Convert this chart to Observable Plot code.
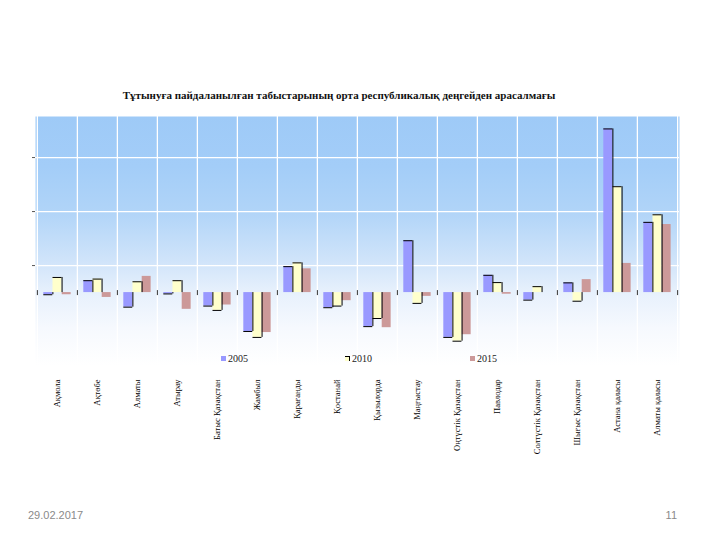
<!DOCTYPE html>
<html><head><meta charset="utf-8">
<script src="https://cdn.jsdelivr.net/npm/d3@7"></script>
<script src="https://cdn.jsdelivr.net/npm/@observablehq/plot@0.6"></script>
<style>
body{margin:0;background:#fff;}
#wrap{position:relative;width:720px;height:540px;overflow:hidden;}
#chart{position:absolute;left:0;top:0;}
.title{position:absolute;top:89px;left:0;width:678px;text-align:center;font:bold 11px "Liberation Serif",serif;color:#111;white-space:nowrap;}
.leg{position:absolute;top:353px;font:10px "Liberation Serif",serif;color:#222;white-space:nowrap;}
.leg i{display:inline-block;width:5px;height:5px;margin-right:2px;vertical-align:1px;}
.foot{position:absolute;top:509px;font:11px "Liberation Sans",sans-serif;color:#8a8a8a;}
</style>
</head><body>
<div id="wrap">
<div id="chart"></div>
<div class="title">Тұтынуға пайдаланылған табыстарының орта республикалық деңгейден арасалмағы</div>
<div class="leg" style="left:221px"><i style="background:#9999ff"></i>2005</div>
<div class="leg" style="left:345px"><i style="background:#ffffcc;border-top:1px solid #000;border-right:1px solid #000;width:4px;height:4px"></i>2010</div>
<div class="leg" style="left:470px"><i style="background:#cc9999"></i>2015</div>
<div class="foot" style="left:28px">29.02.2017</div>
<div class="foot" style="right:43px">11</div>
</div>
<script>
const regions = ["Ақмола","Ақтөбе","Алматы","Атырау","Батыс Қазақстан","Жамбыл","Қарағанды","Қостанай","Қызылорда","Маңғыстау","Оңтүстік Қазақстан","Павлодар","Солтүстік Қазақстан","Шығыс Қазақстан","Астана қаласы","Алматы қаласы"];
const v2005 = [-0.4, 2.2, -2.7, -0.25, -2.5, -7.2, 4.8, -2.8, -6.3, 9.6, -8.3, 3.2, -1.4, 1.8, 30.3, 13.0];
const v2010 = [2.8, 2.5, 2.0, 2.2, -3.3, -8.3, 5.5, -2.5, -4.8, -2.0, -9.0, 1.85, 1.1, -1.6, 19.6, 14.4];
const v2015 = [-0.4, -0.9, 3.0, -3.1, -2.3, -7.4, 4.4, -1.5, -6.5, -0.7, -7.8, -0.3, 0, 2.4, 5.4, 12.6];
const gridValues = [5, 15, 25];

const W = 720, H = 540, ML = 35, MR = 41, MT = 116, MB = 175;
const bw = (W - ML - MR) / regions.length;
const gOff = 6.3, step = 9.2;
const data = regions.map((r, i) => ({region: r, a: v2005[i], b: v2010[i], c: v2015[i]}));
const inset = k => ({insetLeft: gOff + step * k, insetRight: bw - gOff - step * (k + 1)});
const rEdge = k => gOff + step * (k + 1) - bw / 2;
const outline = {stroke: "#000", strokeWidth: 1};

const chart = Plot.plot({
  width: W, height: H,
  marginLeft: ML, marginRight: MR, marginTop: MT, marginBottom: MB,
  style: {fontFamily: "Liberation Serif, serif", fontSize: "8.5px", background: "transparent", color: "#000"},
  x: {domain: regions, padding: 0},
  y: {domain: [-13.5, 32.6]},
  marks: [
    Plot.frame({fill: "url(#bg)", stroke: "none"}),
    Plot.ruleY(gridValues, {stroke: "#fff", strokeWidth: 1.3}),
    Plot.ruleX(regions, {x: d => d, dx: -bw / 2, stroke: "#fff", strokeWidth: 1.3}),
    Plot.ruleX([regions[regions.length - 1]], {x: d => d, dx: bw / 2, stroke: "#fff", strokeWidth: 1.3}),
    Plot.barY(data, {x: "region", y: "a", fill: "#9999ff", ...inset(0)}),
    Plot.barY(data, {x: "region", y: "b", fill: "#ffffcc", ...inset(1)}),
    Plot.barY(data, {x: "region", y: "c", fill: "#cc9999", ...inset(2)}),
    Plot.tickY(data, {x: "region", y: "a", ...outline, ...inset(0)}),
    Plot.tickY(data, {x: "region", y: "b", ...outline, ...inset(1)}),
    Plot.ruleX(data, {x: "region", y1: 0, y2: "a", dx: rEdge(0), ...outline}),
    Plot.ruleX(data, {x: "region", y1: 0, y2: "b", dx: rEdge(1), ...outline}),
    Plot.ruleX(regions, {x: d => d, dx: -bw / 2, y1: 0, y2: 0, insetTop: 3, insetBottom: 2, stroke: "#333"}),
    Plot.ruleX([regions[regions.length - 1]], {x: d => d, dx: bw / 2, y1: 0, y2: 0, insetTop: 3, insetBottom: 2, stroke: "#333"}),
    Plot.axisX({tickRotate: -90, tickSize: 0, tickPadding: 14, fontSize: 8.5, label: null}),
    Plot.axisY({ticks: gridValues, tickSize: 3, tickFormat: () => "", stroke: "#555", label: null})
  ]
});

const ns = "http://www.w3.org/2000/svg";
const defs = document.createElementNS(ns, "defs");
const lg = document.createElementNS(ns, "linearGradient");
lg.setAttribute("id", "bg");
lg.setAttribute("x1", "0"); lg.setAttribute("y1", "0");
lg.setAttribute("x2", "0"); lg.setAttribute("y2", "1");
[[0, "#9ecaf7"], [0.2, "#a3cdf8"], [0.38, "#b0d4f8"], [0.58, "#d0e4fa"], [0.7, "#e6f0fc"], [0.85, "#f6f9fe"], [1, "#ffffff"]].forEach(([o, c]) => {
  const s = document.createElementNS(ns, "stop");
  s.setAttribute("offset", o);
  s.setAttribute("stop-color", c);
  lg.appendChild(s);
});
defs.appendChild(lg);
chart.insertBefore(defs, chart.firstChild);
document.getElementById("chart").appendChild(chart);
</script>
</body></html>
